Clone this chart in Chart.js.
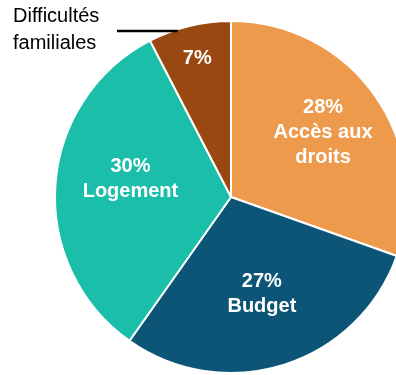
<!DOCTYPE html>
<html>
<head>
<meta charset="utf-8">
<script src="https://cdn.jsdelivr.net/npm/chart.js@4/dist/chart.umd.min.js"></script>
<style>
  html, body { margin: 0; padding: 0; background: #fff; overflow: hidden; }
  #wrap { position: absolute; left: 0; top: 0; width: 420px; height: 375px; }
</style>
</head>
<body>
<div id="wrap"><canvas id="myChart"></canvas></div>
<script>
var categories = ['Accès aux droits', 'Budget', 'Logement', 'Difficultés familiales'];
var values = [28, 27, 30, 7];
var colors = ['#EE9A4D', '#0C5577', '#1BBFA9', '#9A4812'];

// label lines shown inside each slice
var sliceLines = [['Accès aux', 'droits'], ['Budget'], ['Logement'], []];
var labelRadius = [0.64, 0.58, 0.58, 0.81];
var labelShift = [0, 0, 6, 0]; // degrees

var labelPlugin = {
  id: 'sliceLabels',
  afterDatasetsDraw: function (chart) {
    var ctx = chart.ctx;
    var meta = chart.getDatasetMeta(0);
    ctx.save();
    ctx.fillStyle = '#fff';
    ctx.textAlign = 'center';
    ctx.textBaseline = 'middle';
    ctx.font = 'bold 20px "Liberation Sans", Arial, sans-serif';
    meta.data.forEach(function (arc, i) {
      var mid = (arc.startAngle + arc.endAngle) / 2 + labelShift[i] * Math.PI / 180;
      var r = arc.outerRadius * labelRadius[i];
      var x = arc.x + Math.cos(mid) * r;
      var y = arc.y + Math.sin(mid) * r;
      var lines = [values[i] + '%'].concat(sliceLines[i]);
      var lh = 25;
      var y0 = y - (lines.length - 1) * lh / 2;
      lines.forEach(function (t, j) {
        ctx.fillText(t, x, y0 + j * lh);
      });
    });

    // annotation for the small slice
    ctx.fillStyle = '#000';
    ctx.textAlign = 'left';
    ctx.textBaseline = 'alphabetic';
    ctx.font = '20px "Liberation Sans", Arial, sans-serif';
    ctx.fillText('Difficultés', 13, 22);
    ctx.fillText('familiales', 13, 49);
    ctx.strokeStyle = '#000';
    ctx.lineWidth = 2.5;
    ctx.beginPath();
    ctx.moveTo(117, 31);
    ctx.lineTo(178, 31);
    ctx.stroke();
    ctx.restore();
  }
};

var ctx = document.getElementById('myChart').getContext('2d');
var myChart = new Chart(ctx, {
  type: 'pie',
  data: {
    labels: categories,
    datasets: [{
      data: values,
      backgroundColor: colors,
      borderColor: '#fff',
      borderWidth: 2
    }]
  },
  options: {
    responsive: true,
    maintainAspectRatio: false,
    animation: false,
    layout: { padding: { left: 54, right: 12, top: 20, bottom: 1 } },
    plugins: {
      legend: { display: false },
      tooltip: { enabled: false }
    }
  },
  plugins: [labelPlugin]
});
</script>
</body>
</html>
